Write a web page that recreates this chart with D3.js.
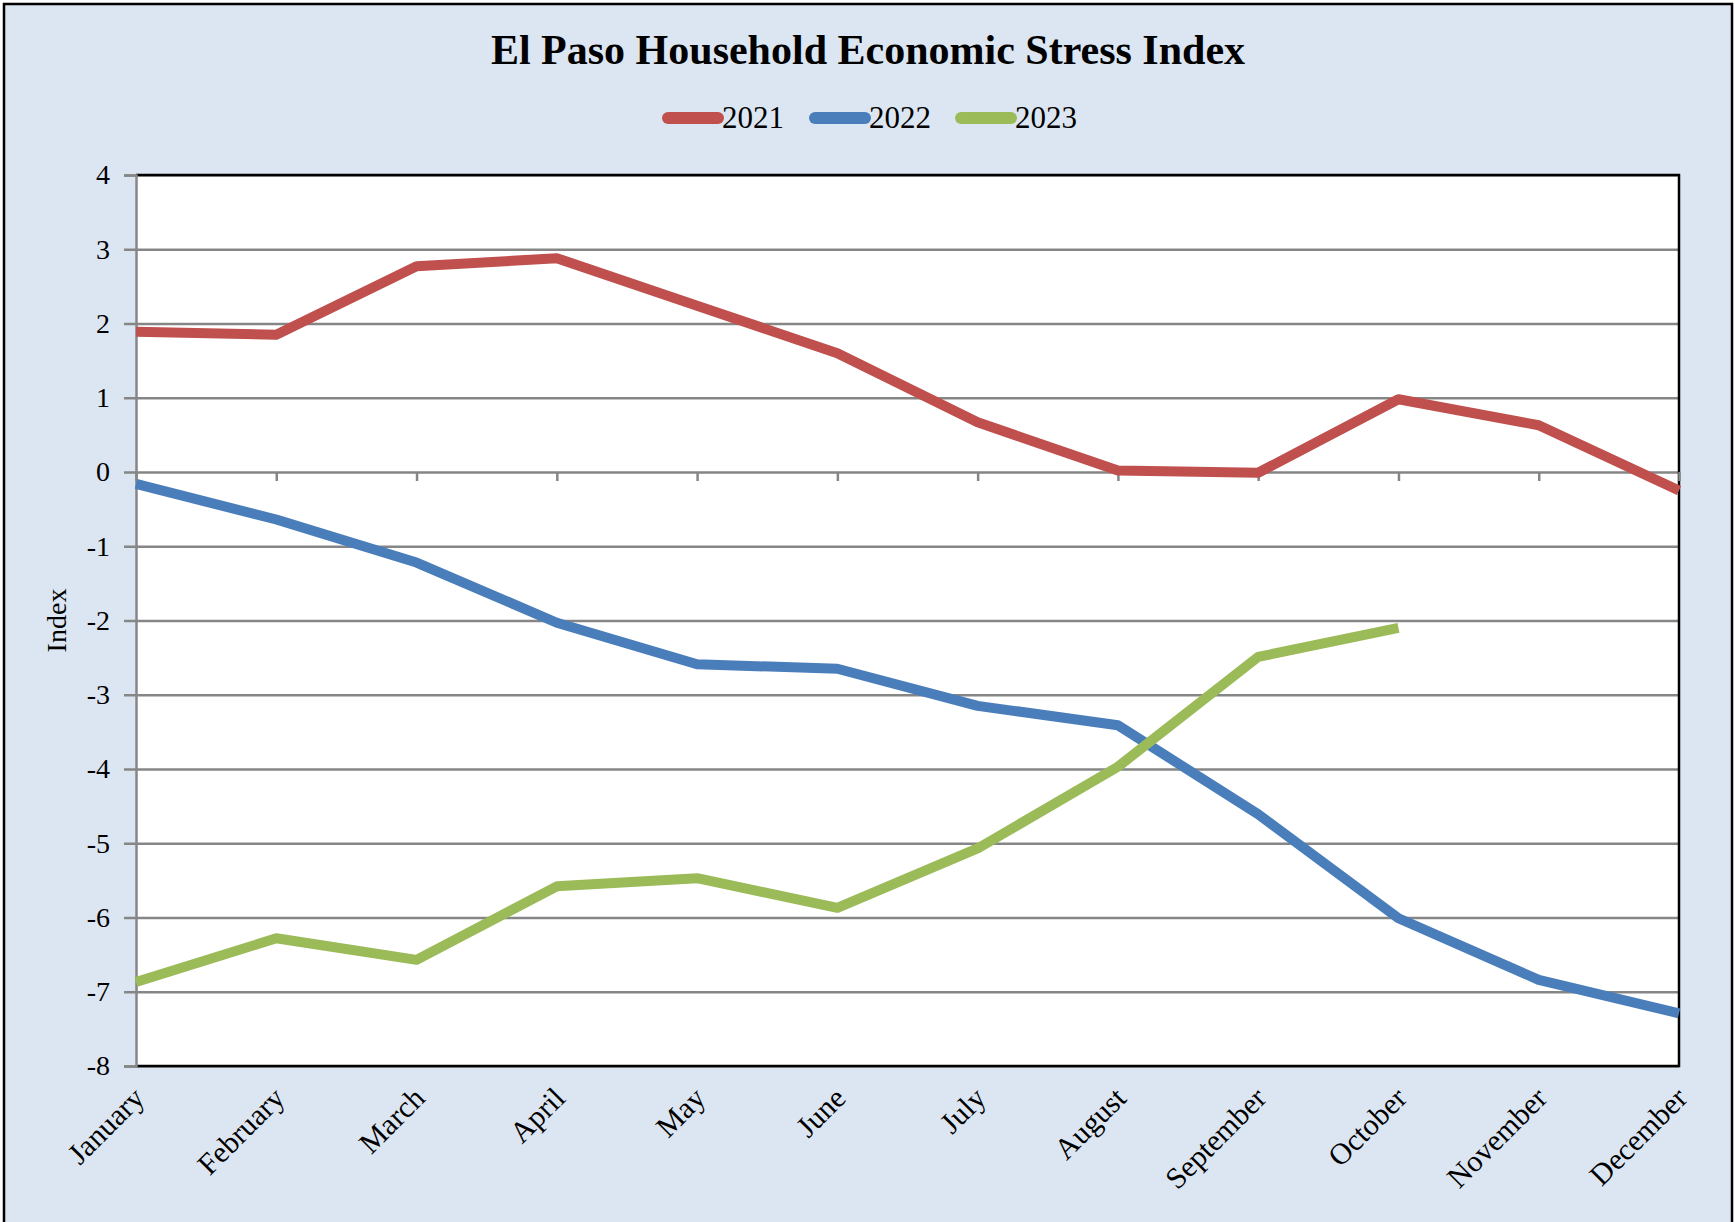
<!DOCTYPE html>
<html>
<head>
<meta charset="utf-8">
<script src="https://cdn.jsdelivr.net/npm/d3@7"></script>
<style>
  html, body { margin: 0; padding: 0; background: #fff; }
  text { font-family: "Liberation Serif", "Times New Roman", serif; fill: #000; }
</style>
</head>
<body>
<svg id="chart" width="1735" height="1222"></svg>
<script>
const months = ["January", "February", "March", "April", "May", "June",
  "July", "August", "September", "October", "November", "December"];
const years = ["2021", "2022", "2023"];
const colors = ["#C0504D", "#4A7EBB", "#9BBB59"];

const v2021 = [1.89, 1.85, 2.77, 2.88, 2.24, 1.6, 0.67, 0.02, -0.01, 0.98, 0.63, -0.25];
const v2022 = [-0.16, -0.64, -1.22, -2.03, -2.59, -2.65, -3.15, -3.41, -4.61, -6.01, -6.84, -7.29];
const v2023 = [-6.87, -6.28, -6.57, -5.58, -5.47, -5.87, -5.07, -3.97, -2.49, -2.1];
const yTicks = [4, 3, 2, 1, 0, -1, -2, -3, -4, -5, -6, -7, -8];

const series = [v2021, v2022, v2023];

const svg = d3.select("#chart");
const W = 1735, H = 1222;
const margin = { top: 175, right: 56, bottom: 156, left: 136 };
const width = W - margin.left - margin.right,
  height = H - margin.top - margin.bottom;

// outer background and frame
svg.append("rect").attr("x", 4).attr("y", 4).attr("width", W - 7).attr("height", H + 10)
  .attr("fill", "#DCE6F2").attr("stroke", "#000").attr("stroke-width", 2.5);

const x = d3.scalePoint().domain(months).range([0, width]);
const y = d3.scaleLinear().domain([-8, 4]).range([height, 0]);

const g = svg.append("g").attr("transform", `translate(${margin.left},${margin.top})`);

g.append("rect").attr("width", width).attr("height", height).attr("fill", "#fff");

// gridlines
g.append("g")
  .call(d3.axisLeft(y).tickValues(yTicks).tickSize(-width).tickFormat(""))
  .call(s => s.select(".domain").remove())
  .call(s => s.selectAll("line").attr("stroke", "#868686").attr("stroke-width", 2.5));

// plot border
g.append("path")
  .attr("d", `M0,0H${width}V${height}H0`)
  .attr("fill", "none").attr("stroke", "#000").attr("stroke-width", 2.5);

// y axis
g.append("g")
  .call(d3.axisLeft(y).tickValues(yTicks).tickSize(12).tickPadding(14).tickFormat(d => String(d)))
  .call(s => s.select(".domain").attr("stroke", "#868686").attr("stroke-width", 2.5))
  .call(s => s.selectAll(".tick line").attr("stroke", "#868686").attr("stroke-width", 2.5))
  .call(s => s.selectAll("text").attr("font-size", 28)
    .attr("font-family", "Liberation Serif").attr("fill", "#000"));

// category ticks on zero line
g.append("g")
  .attr("transform", `translate(0,${y(0)})`)
  .call(d3.axisBottom(x).tickSize(9).tickFormat(""))
  .call(s => s.select(".domain").remove())
  .call(s => s.selectAll(".tick line").attr("stroke", "#868686").attr("stroke-width", 2.5));

// month labels
g.append("g").selectAll("text")
  .data(months)
  .join("text")
  .attr("transform", d => `translate(${x(d) + 10},${height + 34}) rotate(-45)`)
  .attr("text-anchor", "end")
  .attr("font-size", 30)
  .text(d => d);

// y axis title
svg.append("text")
  .attr("transform", `translate(66,${margin.top + height / 2}) rotate(-90)`)
  .attr("text-anchor", "middle")
  .attr("font-size", 28)
  .text("Index");

// lines
const line = d3.line().x((d, i) => x(months[i])).y(d => y(d));
g.append("g").selectAll("path")
  .data(series)
  .join("path")
  .attr("d", d => line(d))
  .attr("fill", "none")
  .attr("stroke", (d, i) => colors[i])
  .attr("stroke-width", 10)
  .attr("stroke-linejoin", "round");

// title
svg.append("text")
  .attr("x", 868).attr("y", 64)
  .attr("text-anchor", "middle")
  .attr("font-size", 42).attr("font-weight", "bold")
  .text("El Paso Household Economic Stress Index");

// legend
const legX = [662, 809, 955];
const leg = svg.append("g").selectAll("g")
  .data(years)
  .join("g")
  .attr("transform", (d, i) => `translate(${legX[i]},118)`);
leg.append("line")
  .attr("x1", 6).attr("x2", 56)
  .attr("stroke", (d, i) => colors[i])
  .attr("stroke-width", 12).attr("stroke-linecap", "round");
leg.append("text")
  .attr("x", 60).attr("y", 10)
  .attr("font-size", 31)
  .text(d => d);
</script>
</body>
</html>
